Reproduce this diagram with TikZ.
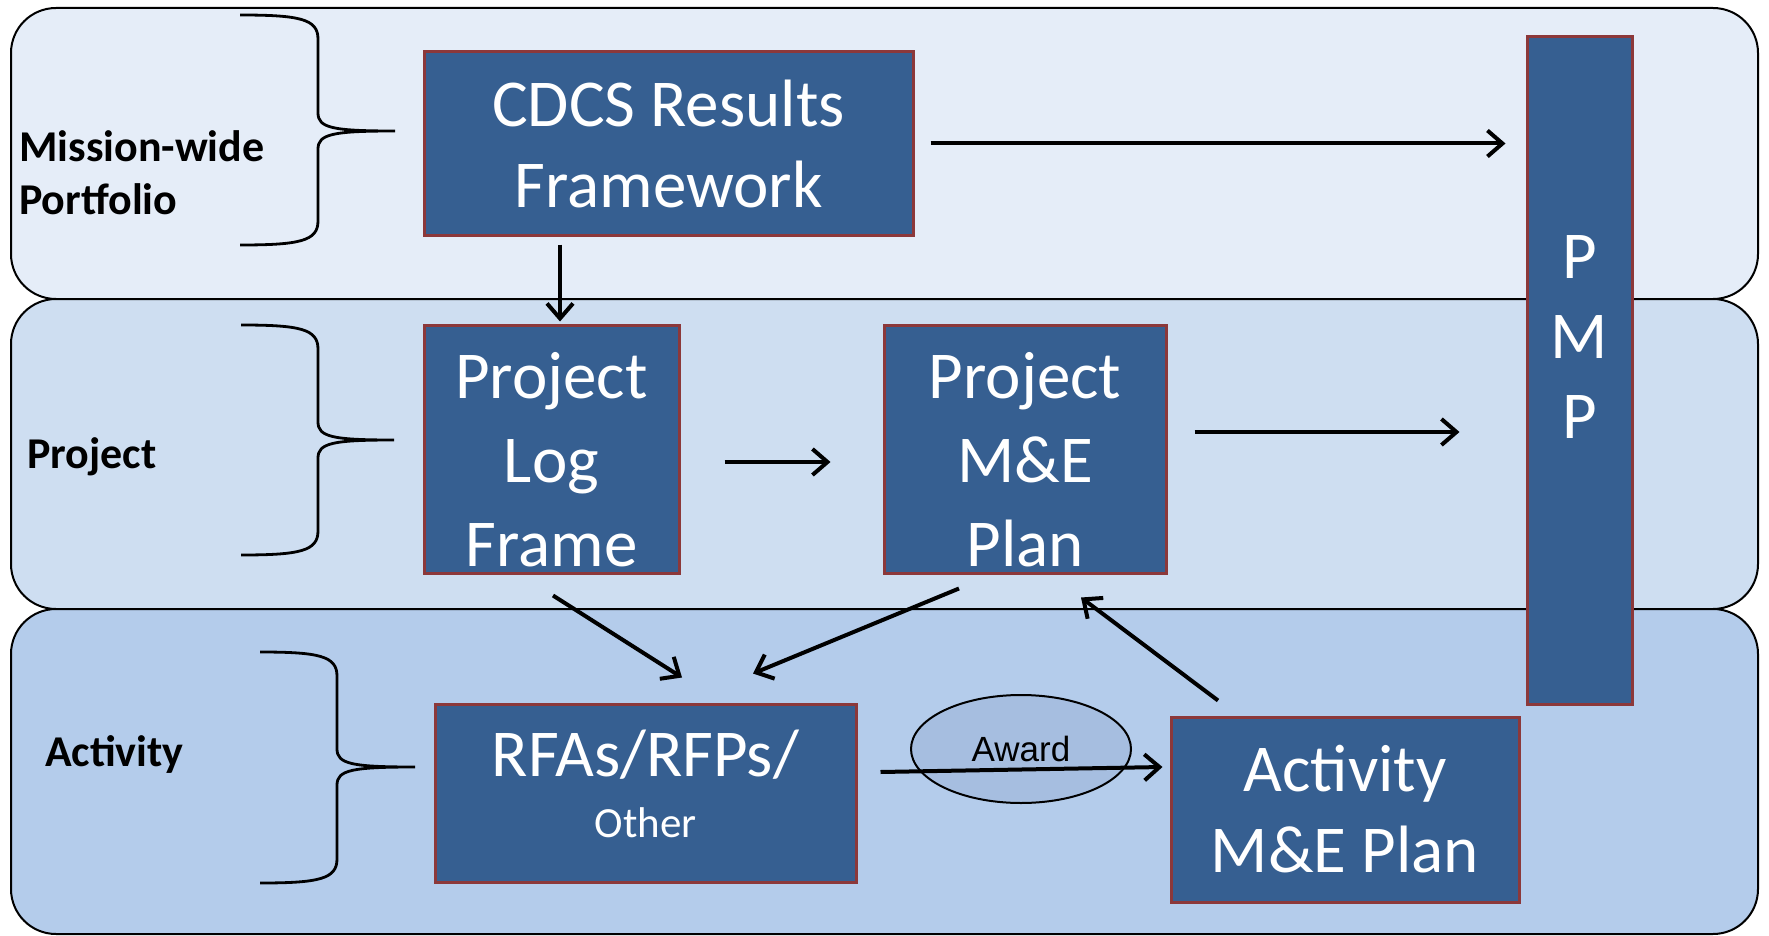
\documentclass[tikz,border=0pt]{standalone}
\usepackage{fontspec}
\setmainfont{Carlito}
\newfontfamily\arialfont{Liberation Sans}
\usetikzlibrary{shapes.geometric, arrows.meta, calc}
\definecolor{bandtop}{RGB}{229,237,248}
\definecolor{bandmid}{RGB}{206,222,241}
\definecolor{bandlow}{RGB}{180,204,235}
\definecolor{boxblu}{RGB}{54,95,145}
\definecolor{boxred}{RGB}{140,56,58}
\definecolor{awardblu}{RGB}{166,190,224}
\tikzstyle{band} = [draw=black, line width=2pt, rounded corners=45pt]
\tikzstyle{process} = [rectangle, draw=boxred, line width=3pt, fill=boxblu, text=white, align=center, inner sep=0pt, font=\fontsize{67}{81}\selectfont]
\tikzstyle{tall} = [font=\fontsize{67}{84}\selectfont]
\tikzstyle{tier} = [anchor=west, align=left, inner sep=0pt, font=\bfseries\fontsize{44}{53}\selectfont]
\tikzstyle{bracket} = [line width=2.8pt]
\tikzstyle{award} = [ellipse, draw=black, line width=2pt, fill=awardblu, minimum width=220pt, minimum height=108pt, inner sep=0pt, font=\arialfont\fontsize{35}{38}\selectfont]
\tikzstyle{arrow} = [line width=4pt, -{Straight Barb[length=15pt,width=26pt]}]

\begin{document}
\begin{tikzpicture}[x=1pt, y=-1pt]
  \useasboundingbox (0,0) rectangle (1769,936);
  % the three levels
  \draw [band, fill=bandtop] (11,8) rectangle (1758,299);
  \draw [band, fill=bandmid] (11,299) rectangle (1758,609);
  \draw [band, fill=bandlow] (11,609) rectangle (1758,934);

  \node (lblmission) [tier] at (19,173) {Mission-wide\\Portfolio};
  \node (lblproject) [tier] at (27,457) {Project};
  \node (lblactivity) [tier] at (45,754) {Activity};

  % braces
  \foreach \xl/\xm/\xt/\yt/\yc/\yb in {240/318/395/15/131/245, 241/318/394/325/440/555, 260/337/415/652/767/883}
    \draw [bracket] (\xl,\yt) .. controls (\xm-18,\yt) and (\xm,\yt+4) .. (\xm,\yt+24) -- (\xm,\yc-18)
      .. controls (\xm,\yc-3) and (\xm+15,\yc) .. (\xt,\yc)
      .. controls (\xm+15,\yc) and (\xm,\yc+3) .. (\xm,\yc+18) -- (\xm,\yb-24)
      .. controls (\xm,\yb-4) and (\xm-18,\yb) .. (\xl,\yb);

  \node (cdcs) [process, minimum width=489pt, minimum height=183pt] at (668.5,143.5) {CDCS Results\\Framework};
  \node (plf) [process, tall, minimum width=255pt, minimum height=248pt] at (551.5,449) {\rule{0pt}{67pt}Project\\Log\\Frame};
  \node (pme) [process, tall, minimum width=282pt, minimum height=248pt] at (1025,449) {\rule{0pt}{67pt}Project\\M\&E\\Plan};
  \node (rfa) [process, minimum width=421pt, minimum height=178pt] at (645.5,793) {RFAs/RFPs/\\[-20pt]{\fontsize{43}{45}\selectfont Other}\rule[-18pt]{0pt}{18pt}};
  \node (ame) [process, minimum width=348pt, minimum height=185pt] at (1345,809.5) {Activity\\M\&E Plan};
  \node (pmp) [process, minimum width=105pt, minimum height=667pt,
    label={[text=white, align=center, font=\fontsize{67}{80}\selectfont, yshift=33pt]center:P\\M\\P}] at (1579.5,370.5) {};
  \node (award) [award] at (1021,749) {Award};

  \draw [arrow] ($(cdcs.east)+(16,0)$) -- ($(pmp.west |- cdcs.east)+(-20,0)$);
  \draw [arrow] ($(cdcs.south -| plf.north)+(8.5,8)$) -- ($(plf.north)+(8.5,-2)$);
  \draw [arrow] ($(plf.east)+(44,13)$) -- ($(pme.west)+(-52,13)$);
  \draw [arrow] ($(pme.east)+(27,-17)$) -- ($(pmp.west |- pme.east)+(-66,-17)$);
  \draw [arrow] ($(plf.south)+(1.5,21)$) -- ($(rfa.north)+(36.5,-25)$);
  \draw [arrow] ($(pme.south)+(-66,14)$) -- ($(rfa.north)+(107.5,-29)$);
  \draw [arrow] ($(ame.north)+(-127,-15)$) -- ($(pme.south)+(56,23)$);
  \draw [arrow] ($(rfa.east)+(23,-21)$) -- ($(ame.west)+(-7,-42.5)$);
\end{tikzpicture}
\end{document}
